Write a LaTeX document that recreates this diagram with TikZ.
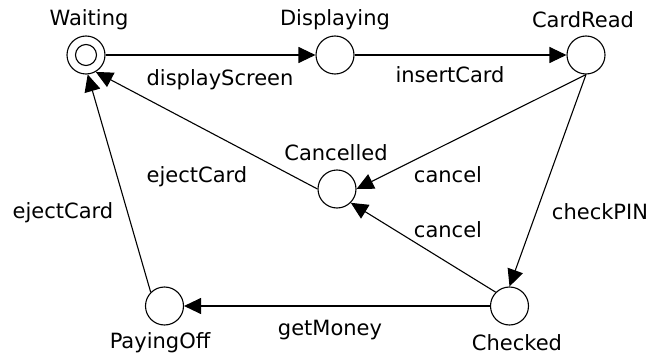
\documentclass[tikz,border=0pt]{standalone}
\usepackage{fontspec}
\setmainfont{DejaVu Sans}
\usetikzlibrary{arrows.meta}
\tikzset{
  state/.style={draw, circle, minimum size=38pt, inner sep=0pt, line width=1.1pt},
  lbl/.style={font=\fontsize{21}{24}\selectfont, inner sep=0pt, anchor=center},
  trans/.style={line width=1.1pt, -{Triangle[length=17pt, width=16pt]}},
}
\begin{document}
\begin{tikzpicture}[x=1pt, y=-1pt]
  \useasboundingbox (0,0) rectangle (654,361);

  % states
  \node[state] (waiting) at (86,55) {};
  \node[draw, circle, minimum size=21pt, inner sep=0pt, line width=1.1pt] (waitinner) at (waiting) {};
  \node[state] (displaying) at (335,55) {};
  \node[state] (cardread) at (586,55) {};
  \node[state] (cancelled) at (337,189) {};
  \node[state] (payingoff) at (164.5,306) {};
  \node[state] (checked) at (509.5,306) {};

  % state names
  \node[lbl] (tWaiting) at (89,20) {Waiting};
  \node[lbl] (tDisplaying) at (335,20) {Displaying};
  \node[lbl] (tCardRead) at (583,20) {CardRead};
  \node[lbl] (tCancelled) at (336,153) {Cancelled};
  \node[lbl] (tPayingOff) at (160,343) {PayingOff};
  \node[lbl] (tChecked) at (517,343) {Checked};

  % transitions
  \draw[trans] (waiting) -- (displaying);
  \draw[trans] (displaying) -- (cardread);
  \draw[trans] (cardread.south) -- (cancelled.east);
  \draw[trans] (cardread.south) -- (checked.north);
  \draw[trans] (checked.north west) -- (cancelled.south east);
  \draw[trans] (cancelled.west) -- (waiting.-60);
  \draw[trans] (payingoff.north west) -- (waiting.-85);
  \draw[trans] (checked) -- (payingoff);

  % transition labels
  \node[lbl] (lDisplay) at (220,80) {displayScreen};
  \node[lbl] (lInsert) at (450,75) {insertCard};
  \node[lbl] (lEject1) at (197,177) {ejectCard};
  \node[lbl] (lEject2) at (63,213) {ejectCard};
  \node[lbl] (lCancel1) at (448,175) {cancel};
  \node[lbl] (lCancel2) at (448,230) {cancel};
  \node[lbl] (lCheck) at (600,212) {checkPIN};
  \node[lbl] (lMoney) at (330,330) {getMoney};
\end{tikzpicture}
\end{document}
